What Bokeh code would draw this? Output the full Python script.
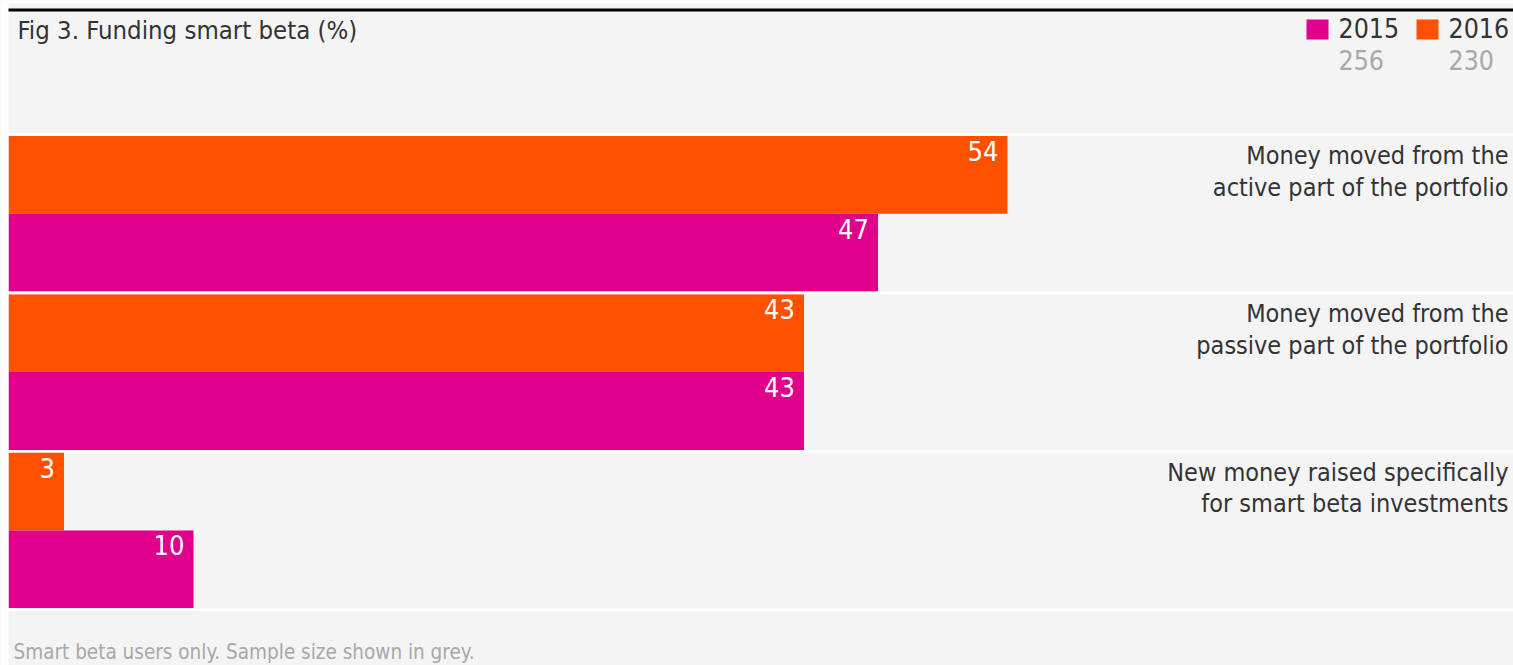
from bokeh.plotting import figure
from bokeh.models import ColumnDataSource, Range1d, Span, BoxAnnotation, Label
from bokeh.core.properties import value
from bokeh.embed import file_html
from bokeh.resources import INLINE

# ---------------- data ----------------
categories = [
    "Money moved from the\nactive part of the portfolio",
    "Money moved from the\npassive part of the portfolio",
    "New money raised specifically\nfor smart beta investments",
]
years = ["2015", "2016"]
values_2015 = [47, 43, 10]
values_2016 = [54, 43, 3]
sample_sizes = [256, 230]
title_text = "Fig 3. Funding smart beta (%)"
note_text = "Smart beta users only. Sample size shown in grey."

# ---------------- style / layout ----------------
W, H = 1513, 665
FONT = "'DejaVu Sans Condensed', Roboto, sans-serif"
C2015 = "#e1008c"
C2016 = "#ff5000"
BG = "#f4f4f4"
TXT = "#333333"
GREY = "#a8a8a8"

X0, SX = 8.0, 18.5       # pixel of value 0, pixels per unit
Y0, SY = 135.5, 77.8     # pixel of first band top, pixels per bar slot
GAP = 2.7 / SY

def px_x(px):
    return (px - X0) / SX

def px_y(py):
    return (Y0 - py) / SY

xr = Range1d(px_x(0), px_x(W))
yr = Range1d(px_y(H), px_y(0))

p = figure(width=W, height=H, x_range=xr, y_range=yr,
           output_backend="svg", toolbar_location=None,
           min_border=0, min_border_left=0, min_border_right=0,
           min_border_top=0, min_border_bottom=0)
p.axis.visible = False
p.grid.visible = False
p.outline_line_color = None
p.background_fill_color = BG
p.border_fill_color = "white"

# white page margins
p.add_layout(BoxAnnotation(left=xr.start, right=0, bottom=yr.start, top=yr.end,
                           fill_color="white", fill_alpha=1, line_color=None))
p.add_layout(BoxAnnotation(left=xr.start, right=xr.end, bottom=px_y(3), top=yr.end,
                           fill_color="white", fill_alpha=1, line_color=None))
# black top rule
p.add_layout(BoxAnnotation(left=0, right=xr.end, bottom=px_y(11), top=px_y(8),
                           fill_color="black", fill_alpha=1, line_color=None))

# ---------------- bars ----------------
band_top = [-(i * (2 + GAP)) for i in range(len(categories))]
y16 = [t - 0.5 for t in band_top]
y15 = [t - 1.5 for t in band_top]

src16 = ColumnDataSource(dict(y=y16, v=values_2016, top=[t for t in band_top],
                              lab=[str(v) for v in values_2016]))
src15 = ColumnDataSource(dict(y=y15, v=values_2015, top=[t - 1 for t in band_top],
                              lab=[str(v) for v in values_2015]))

p.hbar(y="y", left=0, right="v", height=1, source=src16,
       fill_color=C2016, line_color=None)
p.hbar(y="y", left=0, right="v", height=1, source=src15,
       fill_color=C2015, line_color=None)

for src in (src16, src15):
    p.text(x="v", y="top", text="lab", source=src, x_offset=-9, y_offset=5,
           text_align="right", text_baseline="top", text_color="white",
           text_font=value(FONT), text_font_size="27px")

# white separators between category bands
for i in range(len(categories) + 1):
    p.add_layout(Span(location=-(i * (2 + GAP)) + GAP / 2, dimension="width",
                      line_color="white", line_width=2.7))

# category labels (right aligned)
src_cat = ColumnDataSource(dict(x=[xr.end] * len(categories), y=band_top, t=categories))
p.text(x="x", y="y", text="t", source=src_cat, x_offset=-5, y_offset=5,
       text_align="right", text_baseline="top", text_color=TXT,
       text_font=value(FONT), text_font_size="25px", text_line_height=1.1)

# ---------------- title, legend, note ----------------
p.add_layout(Label(x=px_x(17), y=px_y(14), text=title_text, text_align="left",
                   text_baseline="top", text_color=TXT, text_font=FONT,
                   text_font_size="25.5px"))

leg_left = [px_x(1338 + 110 * j) for j in range(len(years))]
leg_sq = [px_x(1338 + 110 * j - 21) for j in range(len(years))]
src_leg = ColumnDataSource(dict(x=leg_left, xs=leg_sq, y=[px_y(17)] * 2,
                                ys=[px_y(29)] * 2, yn=[px_y(49)] * 2,
                                yr=years, n=[str(n) for n in sample_sizes],
                                c=[C2015, C2016]))
p.rect(x="xs", y="ys", width=22, height=20, width_units="screen",
       height_units="screen", source=src_leg, fill_color="c", line_color=None)
p.text(x="x", y="y", text="yr", source=src_leg, text_align="left",
       text_baseline="top", text_color=TXT, text_font=value(FONT),
       text_font_size="26.5px")
p.text(x="x", y="yn", text="n", source=src_leg, text_align="left",
       text_baseline="top", text_color=GREY, text_font=value(FONT),
       text_font_size="26.5px")

p.add_layout(Label(x=px_x(13), y=px_y(639), text=note_text, text_align="left",
                   text_baseline="top", text_color=GREY, text_font=FONT,
                   text_font_size="20.5px"))

open("out.html", "w").write(file_html(p, INLINE))
